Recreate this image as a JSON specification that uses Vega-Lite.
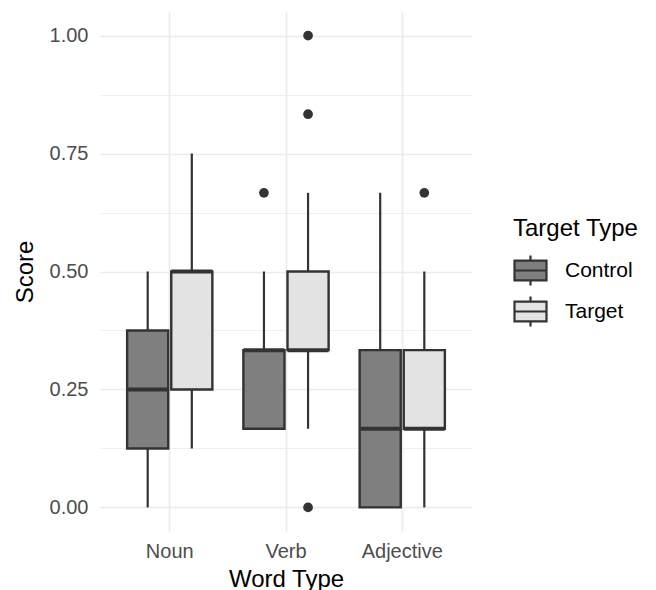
{
  "$schema": "https://vega.github.io/schema/vega-lite/v6.json",
  "width": 372,
  "height": 519,
  "autosize": {"type": "none"},
  "padding": {"left": 100, "top": 12, "right": 184, "bottom": 59},
  "background": "white",
  "config": {
    "font": "Liberation Sans",
    "view": {"stroke": null},
    "axis": {
      "domain": false,
      "ticks": false,
      "labelColor": "#4d4d4d",
      "labelFontSize": 20,
      "titleFontSize": 24,
      "titleFontWeight": "normal",
      "titleColor": "#000000",
      "gridColor": "#ebebeb"
    },
    "legend": {
      "titleFontSize": 24,
      "titleFontWeight": "normal",
      "titleColor": "#000000",
      "labelFontSize": 21,
      "labelColor": "#000000"
    }
  },
  "datasets": {
    "boxes": [
      {"word": "Noun", "type": "Control", "lo": 0, "q1": 0.125, "med": 0.25, "q3": 0.375, "hi": 0.5},
      {"word": "Noun", "type": "Target", "lo": 0.125, "q1": 0.25, "med": 0.5, "q3": 0.5, "hi": 0.75},
      {"word": "Verb", "type": "Control", "lo": 0.1667, "q1": 0.1667, "med": 0.3333, "q3": 0.3333, "hi": 0.5},
      {"word": "Verb", "type": "Target", "lo": 0.1667, "q1": 0.3333, "med": 0.3333, "q3": 0.5, "hi": 0.6667},
      {"word": "Adjective", "type": "Control", "lo": 0, "q1": 0, "med": 0.1667, "q3": 0.3333, "hi": 0.6667},
      {"word": "Adjective", "type": "Target", "lo": 0, "q1": 0.1667, "med": 0.1667, "q3": 0.3333, "hi": 0.5}
    ],
    "outliers": [
      {"word": "Verb", "type": "Control", "score": 0.6667},
      {"word": "Verb", "type": "Target", "score": 0},
      {"word": "Verb", "type": "Target", "score": 0.8333},
      {"word": "Verb", "type": "Target", "score": 1.0},
      {"word": "Adjective", "type": "Target", "score": 0.6667}
    ]
  },
  "layer": [
    {
      "data": {"name": "boxes"},
      "mark": {"type": "rule", "color": "#333333", "strokeWidth": 2.2},
      "encoding": {
        "x": {"field": "word", "type": "nominal", "sort": ["Noun", "Verb", "Adjective"], "title": "Word Type",
              "scale": {"paddingInner": 0.241, "paddingOuter": 0.2205},
              "axis": {"labelAngle": 0, "grid": true, "gridWidth": 1.6, "bandPosition": 0.5, "labelPadding": 10, "titlePadding": 6}},
        "xOffset": {"field": "type", "type": "nominal", "sort": ["Control", "Target"], "scale": {"paddingInner": 0.068, "paddingOuter": 0.034}},
        "y": {"field": "lo", "type": "quantitative", "title": "Score",
              "scale": {"domain": [-0.05, 1.05], "nice": false, "zero": false},
              "axis": {"values": [0, 0.125, 0.25, 0.375, 0.5, 0.625, 0.75, 0.875, 1],
                       "labelExpr": "(datum.value*4) % 1 == 0 ? format(datum.value, '.2f') : ''",
                       "gridWidth": {"condition": {"test": "(datum.value*4) % 1 != 0", "value": 0.8}, "value": 1.6},
                       "labelPadding": 12, "titlePadding": 12}},
        "y2": {"field": "hi"}
      }
    },
    {
      "data": {"name": "boxes"},
      "mark": {"type": "bar", "stroke": "#333333", "strokeWidth": 2.4},
      "encoding": {
        "x": {"field": "word", "type": "nominal", "sort": ["Noun", "Verb", "Adjective"]},
        "xOffset": {"field": "type", "type": "nominal", "sort": ["Control", "Target"]},
        "y": {"field": "q1", "type": "quantitative"},
        "y2": {"field": "q3"},
        "fill": {"field": "type", "type": "nominal", "title": "Target Type",
                 "scale": {"domain": ["Control", "Target"], "range": ["#7f7f7f", "#e3e3e3"]},
                 "legend": {"orient": "none", "legendX": 413, "legendY": 205,
                            "symbolType": "M-1,-0.62H1V0.62H-1Z M-1,0H1 M0,-0.62V-0.94 M0,0.62V0.94",
                            "symbolSize": 1024, "symbolStrokeColor": "#333333", "symbolStrokeWidth": 2.2,
                            "symbolOpacity": 1, "labelOffset": 17, "rowPadding": 2, "titlePadding": 12}}
      }
    },
    {
      "data": {"name": "boxes"},
      "mark": {"type": "tick", "color": "#333333", "thickness": 4, "size": 41, "opacity": 1},
      "encoding": {
        "x": {"field": "word", "type": "nominal", "sort": ["Noun", "Verb", "Adjective"]},
        "xOffset": {"field": "type", "type": "nominal", "sort": ["Control", "Target"]},
        "y": {"field": "med", "type": "quantitative"}
      }
    },
    {
      "data": {"name": "outliers"},
      "mark": {"type": "circle", "color": "#333333", "size": 95, "opacity": 1},
      "encoding": {
        "x": {"field": "word", "type": "nominal", "sort": ["Noun", "Verb", "Adjective"]},
        "xOffset": {"field": "type", "type": "nominal", "sort": ["Control", "Target"]},
        "y": {"field": "score", "type": "quantitative"}
      }
    }
  ]
}
